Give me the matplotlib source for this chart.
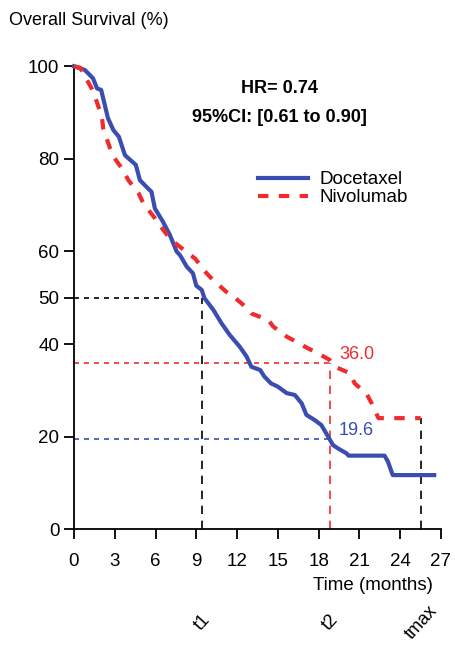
import matplotlib
matplotlib.use('Agg')
import matplotlib.pyplot as plt

plt.rcParams['font.family'] = ['Liberation Sans', 'DejaVu Sans']

# Kaplan-Meier curves (months, % surviving)
doc_t = [0, 0.8, 1.4, 1.7, 2.0, 2.5, 2.9, 3.3, 3.75, 4.55, 4.85, 5.45, 5.7, 5.95,
         6.55, 7.05, 7.55, 7.8, 8.3, 8.75, 9.0, 9.4, 9.6, 10.25, 10.85, 11.45, 12.2,
         12.7, 13.05, 13.7, 14.0, 14.5, 15.0, 15.65, 16.25, 16.75, 17.1, 17.7, 18.2,
         18.7, 19.05, 19.4, 20.05, 20.2, 22.85, 23.1, 23.45, 26.5]
doc_s = [100, 99.2, 97.4, 95.2, 94.9, 88.8, 86.2, 84.8, 80.8, 78.7, 75.4, 73.6, 72.9,
         69.3, 66.4, 63.6, 60.0, 59.2, 56.7, 55.3, 52.6, 51.7, 49.9, 47.4, 44.5, 42.0,
         39.4, 37.3, 35.1, 34.4, 33.0, 31.5, 30.8, 29.4, 29.0, 27.2, 24.7, 23.6, 22.5,
         20.0, 18.2, 17.5, 16.4, 15.9, 15.9, 14.6, 11.7, 11.7]

niv_t = [0, 0.45, 1.3, 1.55, 2.05, 2.15, 2.65, 2.9, 3.6, 4.0, 4.75, 5.1, 5.95, 6.3,
         7.05, 7.45, 8.4, 8.9, 9.75, 10.25, 11.2, 11.6, 12.6, 13.05, 14.3, 14.65,
         15.65, 16.1, 17.2, 17.7, 18.8, 19.2, 20.3, 20.65, 21.5, 21.9, 22.4, 25.5]
niv_s = [100, 99.7, 95.2, 93.4, 89.1, 86.6, 82.3, 80.5, 77.6, 75.4, 72.6, 70.4, 67.2,
         65.7, 62.8, 61.8, 59.6, 58.5, 55.3, 53.8, 51.3, 50.6, 48.1, 46.6, 45.2, 43.8,
         41.6, 40.9, 39.1, 38.4, 36.6, 35.1, 33.7, 31.5, 29.4, 27.2, 24.0, 24.0]

t1, t2, tmax = 9.4, 18.8, 25.5
s_doc_t2, s_niv_t2, s_niv_tmax = 19.6, 36.0, 24.0

x_ticks = list(range(0, 28, 3))
y_ticks = [0, 20, 40, 50, 60, 80, 100]

blue = '#3a4db0'
red = '#ef2b2d'

fig = plt.figure(figsize=(4.55, 6.46), dpi=100)
ax = fig.add_axes([0.1626, 0.1807, 0.8066, 0.7167])

# reference lines
ax.plot([0, t1], [50, 50], color='black', ls=(0, (3, 3)), lw=1.2)
ax.plot([t1, t1], [0, 50], color='black', ls=(0, (5, 4)), lw=1.2)
ax.plot([0, t2], [s_niv_t2, s_niv_t2], color=red, ls=(0, (3, 3)), lw=1.2)
ax.plot([t2, t2], [0, s_niv_t2], color=red, ls=(0, (5, 4)), lw=1.2)
ax.plot([0, t2], [s_doc_t2, s_doc_t2], color=blue, ls=(0, (3, 3)), lw=1.2)
ax.plot([tmax, tmax], [0, s_niv_tmax], color='black', ls=(0, (5, 4)), lw=1.2)

ax.plot(doc_t, doc_s, color=blue, lw=3, label='Docetaxel', clip_on=False, zorder=3)
ax.plot(niv_t, niv_s, color=red, lw=3, ls=(0, (2.5, 2.5)), label='Nivolumab',
        clip_on=False, zorder=3)

ax.text(t2 + 0.7, s_niv_t2 + 0.0, f'{s_niv_t2:.1f}', color=red, fontsize=13,
        ha='left', va='bottom')
ax.text(t2 + 0.7, s_doc_t2 + 0.0, f'{s_doc_t2:.1f}', color=blue, fontsize=13,
        ha='left', va='bottom')

for t, lab in [(t1, 't1'), (t2, 't2'), (tmax, 'tmax')]:
    ax.text(t + 0.05, -20.2, lab, rotation=48, fontsize=13,
            ha='center', va='center', clip_on=False)

ax.text(15.1, 95.2, 'HR= 0.74', fontsize=13, fontweight='bold',
        ha='center', va='center')
ax.text(15.1, 89.0, '95%CI: [0.61 to 0.90]', fontsize=13, fontweight='bold',
        ha='center', va='center')

ax.legend(loc='upper left', bbox_to_anchor=(0.455, 0.81), frameon=False, fontsize=13.5,
          handlelength=2.7, handletextpad=0.6, labelspacing=0.05)

ax.set_xlim(0, 27)
ax.set_ylim(0, 100)
ax.set_xticks(x_ticks)
ax.set_yticks(y_ticks)
ax.tick_params(axis='both', labelsize=13.5, width=1.3, length=7)
ax.tick_params(axis='x', pad=10)
for side in ['top', 'right']:
    ax.spines[side].set_visible(False)
for side in ['left', 'bottom']:
    ax.spines[side].set_linewidth(1.3)

fig.text(0.82, 0.093, 'Time (months)', fontsize=13.5, ha='center', va='center')
fig.text(0.02, 0.968, 'Overall Survival (%)', fontsize=13, ha='left', va='center')

fig.savefig('out.png', dpi=100)
